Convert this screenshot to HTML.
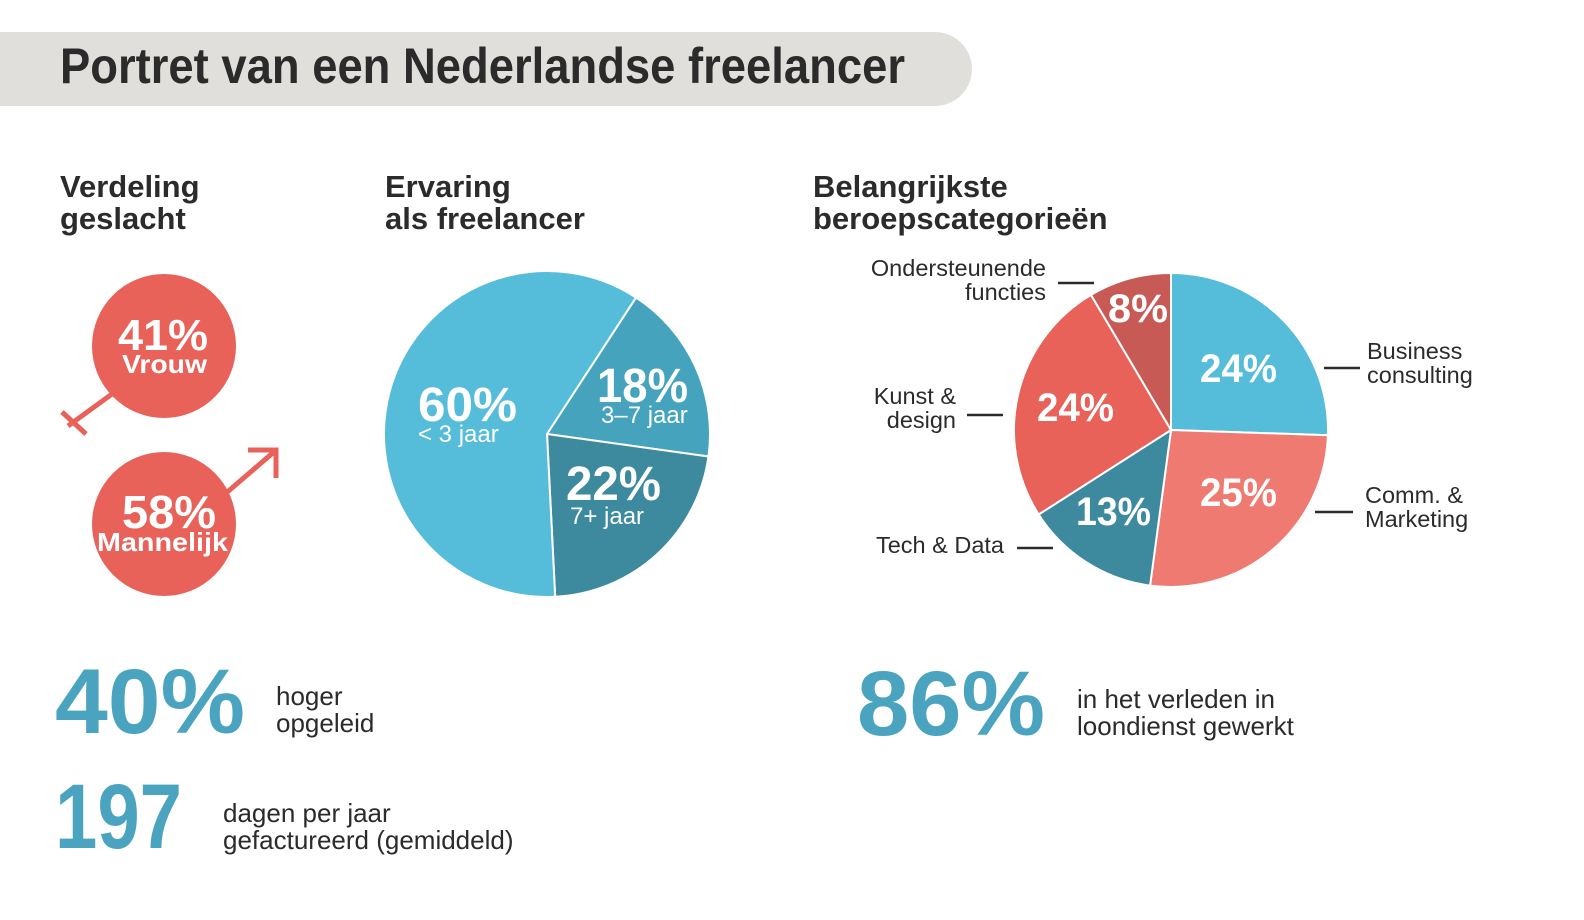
<!DOCTYPE html>
<html><head><meta charset="utf-8">
<style>
html,body{margin:0;padding:0;background:#fff;}
svg{display:block;font-family:"Liberation Sans",sans-serif;}
.h{font-weight:bold;font-size:31px;fill:#2b2b2b;}
.lbl{font-size:23.5px;fill:#2b2b2b;}
.big{font-weight:bold;fill:#fff;}
.stat{font-weight:bold;fill:#4aa4c0;}
.txt{font-size:26px;fill:#2b2b2b;}
</style></head>
<body>
<svg id="s" width="1584" height="920" viewBox="0 0 1584 920" xmlns="http://www.w3.org/2000/svg">
<path d="M0 32 H935 A37 37 0 0 1 935 106 H0 Z" fill="#e0dfdb"/>
<text x="60" y="83" font-weight="bold" font-size="50" fill="#2b2b2b" textLength="845" lengthAdjust="spacingAndGlyphs">Portret van een Nederlandse freelancer</text>

<text class="h" x="60" y="197">Verdeling</text>
<text class="h" x="60" y="229">geslacht</text>
<text class="h" x="385" y="197">Ervaring</text>
<text class="h" x="385" y="229">als freelancer</text>
<text class="h" x="813" y="197">Belangrijkste</text>
<text class="h" x="813" y="229">beroepscategorieën</text>

<g>
<line x1="112" y1="394" x2="68" y2="426" stroke="#e8625a" stroke-width="5"/>
<line x1="62" y1="412" x2="86" y2="434" stroke="#e8625a" stroke-width="5"/>
<circle cx="164" cy="346" r="72" fill="#e8625a"/>
<text class="big" x="118" y="350" font-size="44" textLength="90" lengthAdjust="spacingAndGlyphs">41%</text>
<text class="big" x="122" y="373" font-size="26" textLength="85" lengthAdjust="spacingAndGlyphs">Vrouw</text>
</g>
<g>
<line x1="225" y1="494" x2="275" y2="451" stroke="#e8625a" stroke-width="5"/>
<polyline points="248,450 276,450 276,478" fill="none" stroke="#e8625a" stroke-width="5"/>
<circle cx="164" cy="524" r="72" fill="#e8625a"/>
<text class="big" x="122" y="528" font-size="46" textLength="94" lengthAdjust="spacingAndGlyphs">58%</text>
<text class="big" x="97" y="551" font-size="26" textLength="131" lengthAdjust="spacingAndGlyphs">Mannelijk</text>
</g>

<g id="pie1"></g>
<g id="pie2"></g>

<g>
<text class="big" x="418" y="421" font-size="48" textLength="99" lengthAdjust="spacingAndGlyphs">60%</text>
<text x="418" y="442" font-size="24" fill="#fff">&lt; 3 jaar</text>
<text class="big" x="597" y="402" font-size="48" textLength="91" lengthAdjust="spacingAndGlyphs">18%</text>
<text x="601" y="423" font-size="24" fill="#fff">3–7 jaar</text>
<text class="big" x="566" y="500" font-size="48" textLength="95" lengthAdjust="spacingAndGlyphs">22%</text>
<text x="570" y="524" font-size="24" fill="#fff">7+ jaar</text>
</g>

<g>
<text class="big" x="1108" y="322" font-size="40" textLength="60" lengthAdjust="spacingAndGlyphs">8%</text>
<text class="big" x="1200" y="382" font-size="40" textLength="77" lengthAdjust="spacingAndGlyphs">24%</text>
<text class="big" x="1037" y="421" font-size="40" textLength="77" lengthAdjust="spacingAndGlyphs">24%</text>
<text class="big" x="1200" y="506" font-size="40" textLength="77" lengthAdjust="spacingAndGlyphs">25%</text>
<text class="big" x="1076" y="525" font-size="40" textLength="75" lengthAdjust="spacingAndGlyphs">13%</text>
</g>

<g stroke="#2b2b2b" stroke-width="2.5">
<text class="lbl" stroke="none" x="1046" y="276" text-anchor="end">Ondersteunende</text>
<text class="lbl" stroke="none" x="1046" y="300" text-anchor="end">functies</text>
<line x1="1058" y1="283" x2="1094" y2="283"/>
<text class="lbl" stroke="none" x="1367" y="359">Business</text>
<text class="lbl" stroke="none" x="1367" y="383">consulting</text>
<line x1="1324" y1="368" x2="1360" y2="368"/>
<text class="lbl" stroke="none" x="956" y="404" text-anchor="end">Kunst &amp;</text>
<text class="lbl" stroke="none" x="956" y="428" text-anchor="end">design</text>
<line x1="967" y1="415" x2="1003" y2="415"/>
<text class="lbl" stroke="none" x="1365" y="503">Comm. &amp;</text>
<text class="lbl" stroke="none" x="1365" y="527">Marketing</text>
<line x1="1315" y1="512" x2="1353" y2="512"/>
<text class="lbl" stroke="none" x="1004" y="553" text-anchor="end">Tech &amp; Data</text>
<line x1="1017" y1="548" x2="1053" y2="548"/>
</g>

<text class="stat" x="55" y="733" font-size="92" textLength="190" lengthAdjust="spacingAndGlyphs">40%</text>
<text class="txt" x="276" y="705">hoger</text>
<text class="txt" x="276" y="732">opgeleid</text>
<text class="stat" x="55" y="848" font-size="92" textLength="127" lengthAdjust="spacingAndGlyphs">197</text>
<text class="txt" x="223" y="822">dagen per jaar</text>
<text class="txt" x="223" y="849">gefactureerd (gemiddeld)</text>
<text class="stat" x="857" y="735" font-size="92" textLength="188" lengthAdjust="spacingAndGlyphs">86%</text>
<text class="txt" x="1077" y="708">in het verleden in</text>
<text class="txt" x="1077" y="735">loondienst gewerkt</text>
</svg>
<script>
const expCategories = ["3-7 jaar", "7+ jaar", "< 3 jaar"];
const expValues = [18, 22, 60];
const expColors = ["#45a3bd", "#3d8a9e", "#55bcd9"];
const catCategories = ["Business consulting", "Comm. & Marketing", "Tech & Data", "Kunst & design", "Ondersteunende functies"];
const catValues = [24, 25, 13, 24, 8];
const catColors = ["#55bcd9", "#ee7a72", "#3d8a9e", "#e8625a", "#c85a55"];

function drawPie(gid, cats, vals, colors, cx, cy, r, startTurn) {
  const g = document.getElementById(gid);
  const total = vals.reduce((a, b) => a + b, 0);
  let acc = startTurn;
  vals.forEach((v, i) => {
    const a0 = acc * 2 * Math.PI, a1 = (acc + v / total) * 2 * Math.PI;
    acc += v / total;
    const x0 = cx + r * Math.sin(a0), y0 = cy - r * Math.cos(a0);
    const x1 = cx + r * Math.sin(a1), y1 = cy - r * Math.cos(a1);
    const large = (a1 - a0) > Math.PI ? 1 : 0;
    const p = document.createElementNS("http://www.w3.org/2000/svg", "path");
    p.setAttribute("d", `M${cx} ${cy} L${x0} ${y0} A${r} ${r} 0 ${large} 1 ${x1} ${y1} Z`);
    p.setAttribute("fill", colors[i]);
    p.setAttribute("stroke", "#fff");
    p.setAttribute("stroke-width", "2");
    
    
    g.appendChild(p);
  });
}
drawPie("pie1", expCategories, expValues, expColors, 547, 434, 163, 0.092);
drawPie("pie2", catCategories, catValues, catColors, 1171, 430, 157, 0);
</script>
</body></html>
